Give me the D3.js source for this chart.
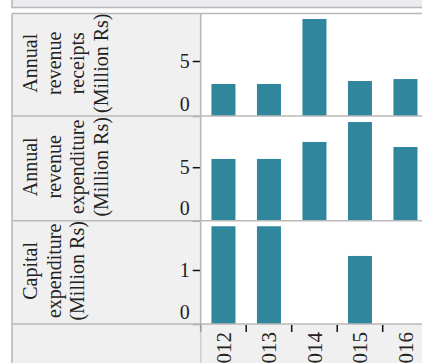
<!DOCTYPE html>
<html>
<head>
<meta charset="utf-8">
<script src="https://cdn.jsdelivr.net/npm/d3@7"></script>
<style>
  html, body { margin: 0; padding: 0; background: #ffffff; }
  svg { display: block; }
</style>
</head>
<body>
<svg id="chart" width="422" height="363"></svg>
<script>
// ---- data ----
const years = ["2012", "2013", "2014", "2015", "2016"];
const rowTitles = [
  ["Annual", "revenue", "receipts", "(Million Rs)"],
  ["Annual", "revenue", "expenditure", "(Million Rs)"],
  ["Capital", "expenditure", "(Million Rs)"]
];
const revenueReceipts = [2.91, 2.91, 8.82, 3.18, 3.36];
const revenueExpenditure = [5.77, 5.77, 7.36, 9.22, 6.89];
const capitalExpenditure = [1.81, 1.81, 0, 1.26, 0];
const yTickValues = [[0, 5], [0, 5], [0, 1]];
const yDomainMax = [10, 10, 2];

const series = [revenueReceipts, revenueExpenditure, capitalExpenditure];

// ---- layout ----
const W = 422, H = 363;
const leftX = 12, sepX = 200.7, rightX = W + 10;
const rowEdges = [13.5, 116, 220.7, 324];
const scaleHeights = [110, 107, 108];
const font = "'Liberation Serif', 'Times New Roman', serif";
const gridColor = "#b9b9b9";
const cellFill = "#f0f0f0";
const barColor = "#30879d";

const svg = d3.select("#chart");

// top strip (cropped cell of a previous row)
svg.append("rect")
  .attr("x", leftX).attr("y", -4)
  .attr("width", rightX - leftX).attr("height", 11.5)
  .attr("fill", "#ececf0").attr("stroke", gridColor).attr("stroke-width", 1.6);

// header cells + bottom row background
for (let i = 0; i < 3; i++) {
  svg.append("rect")
    .attr("x", leftX).attr("y", rowEdges[i])
    .attr("width", sepX - leftX).attr("height", rowEdges[i + 1] - rowEdges[i])
    .attr("fill", cellFill);
}
svg.append("rect")
  .attr("x", leftX).attr("y", rowEdges[3])
  .attr("width", rightX - leftX).attr("height", H - rowEdges[3] + 5)
  .attr("fill", cellFill);

// x scales: outer (step boundaries) and bar bands
const xStep = 45.5;
const xOuter = d3.scaleBand().domain(years).range([sepX, sepX + xStep * years.length]).padding(0);
const x = d3.scaleBand().domain(years).range([sepX, sepX + xStep * years.length])
  .paddingInner(0.472).paddingOuter(0.236);

const defs = svg.append("defs");

series.forEach((vals, i) => {
  const top = rowEdges[i], bottom = rowEdges[i + 1];
  const y = d3.scaleLinear().domain([0, yDomainMax[i]]).range([bottom, bottom - scaleHeights[i]]);

  const clipId = "clip" + i;
  defs.append("clipPath").attr("id", clipId)
    .append("rect").attr("x", sepX).attr("y", top)
    .attr("width", rightX - sepX).attr("height", bottom - top);

  svg.append("g").attr("clip-path", `url(#${clipId})`)
    .selectAll("rect").data(years).join("rect")
    .attr("x", d => x(d))
    .attr("width", x.bandwidth())
    .attr("y", (d, j) => y(vals[j]))
    .attr("height", (d, j) => y(0) - y(vals[j]))
    .attr("fill", barColor);

  // y axis
  const ax = svg.append("g").attr("transform", `translate(${sepX},0)`)
    .call(d3.axisLeft(y).tickValues(yTickValues[i]).tickSize(8).tickPadding(4).tickFormat(d3.format("d")));
  ax.select(".domain").remove();
  ax.selectAll(".tick line").attr("stroke", (d) => d === 0 ? "#9a9a9a" : "#111").attr("stroke-width", 1.5);
  ax.selectAll(".tick text")
    .attr("font-family", font).attr("font-size", 20).attr("fill", "#222")
    .attr("x", -11)
    .attr("dy", d => d === 0 ? "-0.3em" : "0.33em");

  // row title
  const t = svg.append("text")
    .attr("font-family", font).attr("font-size", 20).attr("fill", "#222")
    .attr("text-anchor", "middle")
    .attr("transform", `translate(37,${(top + bottom) / 2 - 1.5}) rotate(-90)`);
  rowTitles[i].forEach((line, k) => {
    t.append("tspan").attr("x", 0).attr("y", k * 23.7).text(line);
  });
});

// grid lines
const hLines = [rowEdges[0], rowEdges[1], rowEdges[2], rowEdges[3]];
svg.selectAll("line.h").data(hLines).join("line").attr("class", "h")
  .attr("x1", leftX).attr("x2", rightX).attr("y1", d => d).attr("y2", d => d)
  .attr("stroke", gridColor).attr("stroke-width", 1.6);
svg.append("line").attr("x1", leftX).attr("x2", leftX).attr("y1", rowEdges[0]).attr("y2", H + 5)
  .attr("stroke", gridColor).attr("stroke-width", 1.6);
svg.append("line").attr("x1", sepX).attr("x2", sepX).attr("y1", rowEdges[0]).attr("y2", rowEdges[3])
  .attr("stroke", gridColor).attr("stroke-width", 1.6);
svg.append("line").attr("x1", sepX).attr("x2", sepX).attr("y1", rowEdges[3]).attr("y2", H + 5)
  .attr("stroke", "#cfcfcf").attr("stroke-width", 1.6);
svg.append("line").attr("x1", sepX).attr("x2", sepX).attr("y1", rowEdges[3]).attr("y2", rowEdges[3] + 8)
  .attr("stroke", "#9a9a9a").attr("stroke-width", 1.5);

// x axis: ticks at band boundaries, labels at band centres
const xg = svg.append("g");
xg.selectAll("line").data(years).join("line")
  .attr("x1", d => xOuter(d) + xOuter.bandwidth())
  .attr("x2", d => xOuter(d) + xOuter.bandwidth())
  .attr("y1", rowEdges[3] + 1).attr("y2", rowEdges[3] + 8)
  .attr("stroke", "#111").attr("stroke-width", 1.5);
xg.selectAll("text").data(years).join("text")
  .attr("font-family", font).attr("font-size", 21).attr("fill", "#222")
  .attr("text-anchor", "end")
  .attr("transform", d => `translate(${x(d) + x.bandwidth() / 2},${rowEdges[3] + 8}) rotate(-90)`)
  .attr("dy", "0.35em")
  .text(d => d);
</script>
</body>
</html>
